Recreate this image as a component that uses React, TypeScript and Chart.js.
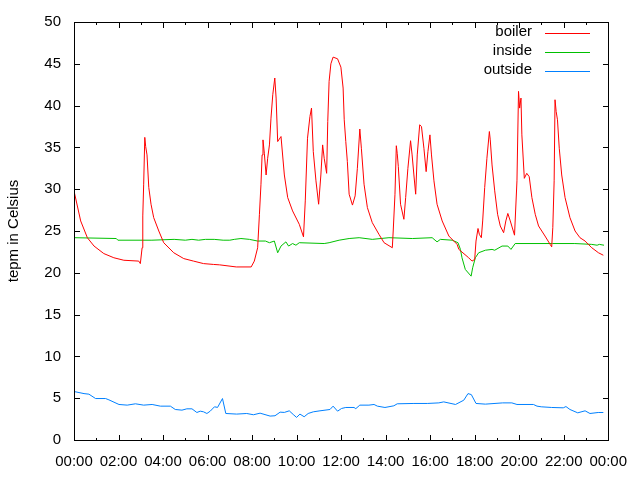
import { useEffect, useRef } from 'react';
import { Chart, registerables } from 'chart.js';

Chart.register(...registerables);

const seriesLabels = ['boiler', 'inside', 'outside'];
const seriesColors = ['#ff0000', '#00c000', '#0080ff'];

const xTickLabels = ['00:00', '02:00', '04:00', '06:00', '08:00', '10:00', '12:00', '14:00', '16:00', '18:00', '20:00', '22:00', '00:00'];
const yAxisTitle = 'tepm in Celsius';

const boilerHours = [
  0, 0.3, 0.6, 0.9, 1.34, 1.79, 2.24, 2.91, 2.98, 3.06, 3.09, 3.13, 3.18, 3.22, 3.28, 3.36, 3.46, 3.58, 3.81, 4.03,
  4.48, 4.93, 5.37, 5.82, 6.27, 6.54, 7.29, 7.96, 8.1, 8.25, 8.33, 8.4, 8.45, 8.49, 8.55, 8.63, 8.7, 8.78, 8.85, 8.93,
  9.02, 9.08, 9.15, 9.3, 9.45, 9.6, 9.82, 10.12, 10.31, 10.39, 10.49, 10.6, 10.67, 10.75, 10.87, 10.99, 11.09, 11.17, 11.24, 11.35,
  11.4, 11.46, 11.54, 11.64, 11.84, 11.99, 12.09, 12.14, 12.21, 12.28, 12.36, 12.51, 12.63, 12.73, 12.84, 12.91, 13.03, 13.18, 13.4, 13.7,
  13.93, 14.3, 14.34, 14.42, 14.48, 14.52, 14.57, 14.67, 14.82, 14.9, 15.0, 15.12, 15.19, 15.27, 15.35, 15.42, 15.53, 15.61, 15.72, 15.82,
  15.9, 15.99, 16.06, 16.17, 16.31, 16.54, 16.84, 17.21, 17.29, 17.73, 17.88, 18.0, 18.06, 18.15, 18.21, 18.3, 18.36, 18.45, 18.55, 18.66,
  18.7, 18.78, 18.9, 19.03, 19.15, 19.3, 19.4, 19.49, 19.6, 19.79, 19.9, 19.97, 20.02, 20.08, 20.12, 20.23, 20.34, 20.45, 20.57, 20.72,
  20.87, 21.16, 21.39, 21.46, 21.51, 21.57, 21.61, 21.66, 21.72, 21.8, 21.91, 22.06, 22.28, 22.51, 22.73, 22.96, 23.26, 23.56, 23.78,
];
const boilerTemps = [
  29.8, 26.2, 24.2, 23.2, 22.3, 21.8, 21.5, 21.4, 21.1, 23.0, 26.8, 30.6, 36.2, 35.1, 34.1, 30.2, 28.2, 26.6, 25.0, 23.6,
  22.4, 21.7, 21.4, 21.1, 21.0, 20.95, 20.7, 20.7, 21.4, 23.0, 27.0, 30.6, 34.1, 35.9, 34.3, 31.7, 33.7, 35.3, 38.5, 41.3,
  43.3, 40.9, 35.7, 36.3, 31.7, 29.0, 27.4, 25.8, 24.3, 28.6, 36.1, 38.7, 39.7, 34.5, 31.0, 28.2, 31.7, 35.3, 33.7, 31.9,
  38.1, 42.9, 45.0, 45.8, 45.6, 44.6, 42.1, 38.3, 35.7, 33.3, 29.4, 28.1, 29.2, 32.5, 37.2, 34.9, 30.6, 27.8, 26.0, 24.6,
  23.6, 23.0, 25.0, 29.4, 35.2, 34.3, 32.7, 28.2, 26.4, 29.0, 32.5, 35.8, 34.1, 31.7, 29.4, 34.1, 37.7, 37.5, 34.9, 32.1,
  34.5, 36.5, 34.1, 31.0, 28.2, 26.2, 24.4, 23.4, 22.8, 21.8, 21.4, 21.6, 23.8, 25.3, 24.6, 24.2, 26.2, 30.2, 33.7, 36.9,
  35.9, 32.9, 29.8, 27.0, 25.6, 24.8, 26.2, 27.1, 26.2, 24.5, 31.0, 41.7, 39.7, 40.9, 36.5, 31.3, 31.9, 31.5, 29.0, 27.0,
  25.6, 24.4, 23.4, 23.1, 25.4, 31.0, 40.7, 39.3, 38.3, 34.9, 31.7, 29.0, 26.6, 25.0, 24.2, 23.8, 23.0, 22.4, 22.1,
];

const insideHours = [
  0, 1.9, 1.97, 3.5, 4.5, 5.0, 5.3, 5.6, 5.9, 6.3, 6.7, 7.0, 7.2, 7.5, 7.88, 8.25, 8.6, 8.78, 9.0, 9.15,
  9.3, 9.52, 9.64, 9.82, 9.97, 10.12, 11.24, 11.46, 11.91, 12.36, 12.81, 13.4, 14.15, 15.2, 16.09, 16.31, 16.46, 16.99, 17.25, 17.36,
  17.43, 17.58, 17.84, 17.91, 18.03, 18.18, 18.48, 18.78, 18.9, 19.23, 19.49, 19.63, 19.82, 21.5, 22.5, 23.26, 23.5, 23.6, 23.81,
];
const insideTemps = [
  24.2, 24.1, 23.9, 23.9, 24.0, 23.9, 24.0, 23.9, 24.0, 24.0, 23.9, 23.9, 24.0, 24.1, 24.0, 23.8, 23.8, 23.6, 23.8, 22.4,
  23.2, 23.7, 23.2, 23.5, 23.3, 23.6, 23.5, 23.6, 23.9, 24.1, 24.2, 24.0, 24.2, 24.1, 24.2, 23.7, 24.0, 23.9, 23.6, 22.8,
  21.8, 20.4, 19.6, 20.6, 21.8, 22.4, 22.7, 22.8, 22.7, 23.2, 23.2, 22.8, 23.5, 23.5, 23.5, 23.4, 23.3, 23.4, 23.3,
];

const outsideHours = [
  0, 0.45, 0.67, 0.97, 1.42, 1.57, 2.02, 2.39, 2.76, 3.13, 3.51, 3.88, 4.33, 4.55, 4.85, 5.07, 5.3, 5.52, 5.67, 5.82,
  5.97, 6.12, 6.31, 6.45, 6.67, 6.82, 7.31, 7.76, 8.06, 8.36, 8.81, 9.03, 9.26, 9.45, 9.67, 9.85, 10.0, 10.15, 10.34, 10.52,
  10.75, 11.05, 11.5, 11.64, 11.84, 12.02, 12.21, 12.58, 12.66, 12.84, 13.25, 13.48, 13.63, 13.97, 14.37, 14.52, 15.27, 15.87, 16.39, 16.61,
  17.14, 17.51, 17.7, 17.85, 18.06, 18.48, 19.26, 19.67, 19.9, 20.64, 20.8, 20.99, 21.46, 21.98, 22.1, 22.28, 22.63, 22.96, 23.18, 23.55, 23.78,
];
const outsideTemps = [
  5.8, 5.55, 5.48, 4.96, 4.96, 4.8, 4.25, 4.17, 4.33, 4.17, 4.25, 4.05, 4.05, 3.65, 3.57, 3.73, 3.73, 3.29, 3.45, 3.37,
  3.17, 3.45, 3.97, 3.9, 4.96, 3.17, 3.1, 3.17, 3.02, 3.21, 2.86, 2.9, 3.33, 3.3, 3.49, 3.05, 2.7, 3.1, 2.78, 3.17,
  3.37, 3.49, 3.65, 4.05, 3.45, 3.77, 3.89, 3.89, 3.75, 4.17, 4.17, 4.25, 4.05, 3.89, 4.09, 4.33, 4.37, 4.37, 4.44, 4.56,
  4.25, 4.76, 5.55, 5.43, 4.37, 4.29, 4.44, 4.44, 4.25, 4.25, 4.05, 3.97, 3.89, 3.85, 4.0, 3.65, 3.25, 3.49, 3.17, 3.29, 3.29,
];

const FONT = { family: '"Liberation Sans", Arial, sans-serif', size: 15 };

const toPoints = (xs: number[], ys: number[]) => xs.map((x, i) => ({ x, y: ys[i] }));

const framePlugin = {
  id: 'gnuplotFrame',
  afterDraw(chart: any) {
    const { ctx, chartArea } = chart;
    const { left, top, right, bottom } = chartArea;
    const xs = chart.scales.x;
    const ys = chart.scales.y;
    ctx.save();
    ctx.fillStyle = '#000';
    const L = Math.round(left), T = Math.round(top), R = Math.round(right), B = Math.round(bottom);
    ctx.fillRect(L, T, R - L + 1, 1);
    ctx.fillRect(L, B, R - L + 1, 1);
    ctx.fillRect(L, T, 1, B - T + 1);
    ctx.fillRect(R, T, 1, B - T + 1);
    // y ticks
    for (let v = ys.min; v <= ys.max; v += 5) {
      const py = Math.round(ys.getPixelForValue(v));
      ctx.fillRect(L, py, 6, 1);
      ctx.fillRect(R - 5, py, 6, 1);
    }
    // x ticks (hourly, major every 2h)
    for (let h = xs.min; h <= xs.max; h += 1) {
      const px = Math.round(xs.getPixelForValue(h));
      const len = h % 2 === 0 ? 6 : 3;
      ctx.fillRect(px, B - len + 1, 1, len);
      ctx.fillRect(px, T, 1, len);
    }
    ctx.restore();
  },
};

const legendPlugin = {
  id: 'gnuplotLegend',
  afterDraw(chart: any) {
    const { ctx } = chart;
    ctx.save();
    ctx.font = `${FONT.size}px ${FONT.family}`;
    ctx.textAlign = 'right';
    ctx.textBaseline = 'middle';
    chart.data.datasets.forEach((ds: any, i: number) => {
      const y = 32 + i * 19;
      ctx.fillStyle = '#000';
      ctx.fillText(ds.label, 532, y);
      ctx.fillStyle = ds.borderColor;
      ctx.fillRect(545, Math.round(y) + 1, 45, 1);
    });
    ctx.restore();
  },
};

export default function App() {
  const ref = useRef<HTMLCanvasElement>(null);
  useEffect(() => {
    document.body.style.margin = '0';
    const canvas = ref.current;
    if (!canvas) return;
    const seriesData = [
      toPoints(boilerHours, boilerTemps),
      toPoints(insideHours, insideTemps),
      toPoints(outsideHours, outsideTemps),
    ];
    const chart = new Chart(canvas, {
      type: 'line',
      data: {
        datasets: seriesData.map((d, i) => ({
          label: seriesLabels[i],
          data: d,
          borderColor: seriesColors[i],
          backgroundColor: seriesColors[i],
          borderWidth: 1,
          pointRadius: 0,
          tension: 0,
          fill: false,
        })),
      },
      options: {
        animation: false,
        responsive: false,
        devicePixelRatio: 1,
        layout: { padding: { top: 20, right: 30, left: 0, bottom: 0 } },
        plugins: {
          legend: { display: false },
          tooltip: { enabled: false },
        },
        scales: {
          x: {
            type: 'linear',
            min: 0,
            max: 24,
            grid: { display: false, drawTicks: false },
            border: { display: false },
            ticks: {
              stepSize: 2,
              autoSkip: false,
              maxRotation: 0,
              padding: 13,
              color: '#000',
              font: FONT,
              callback: (v: any) => xTickLabels[Math.round(Number(v) / 2)],
            },
            afterFit: (s: any) => { s.height = 40; },
          },
          y: {
            type: 'linear',
            min: 0,
            max: 50,
            grid: { display: false, drawTicks: false },
            border: { display: false },
            ticks: { stepSize: 5, padding: 13, color: '#000', font: FONT },
            title: { display: true, text: yAxisTitle, color: '#000', font: FONT, padding: { top: 5, bottom: 0 } },
            afterFit: (s: any) => { s.width = 74; },
          },
        },
      },
      plugins: [framePlugin, legendPlugin],
    });
    return () => chart.destroy();
  }, []);
  return (
    <div style={{ width: 640, height: 480 }}>
      <canvas ref={ref} width={640} height={480} style={{ display: 'block' }} />
    </div>
  );
}
